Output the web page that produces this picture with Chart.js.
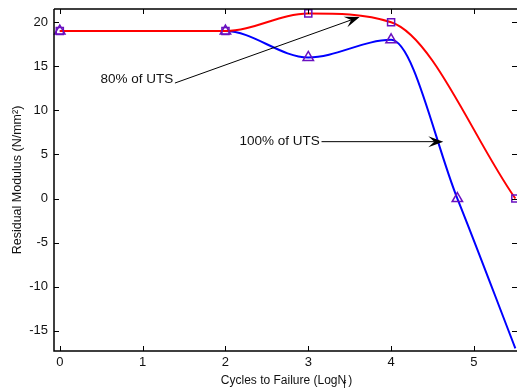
<!DOCTYPE html>
<html>
<head>
<meta charset="utf-8">
<script src="https://cdn.jsdelivr.net/npm/chart.js@4"></script>
<style>
  html, body { margin: 0; padding: 0; background: #fff; }
  #wrap { width: 517px; height: 388px; position: relative; }
</style>
</head>
<body>
<div id="wrap"><canvas id="chart"></canvas></div>
<script>
// data
const redX = [0, 2, 3, 4, 5.5];
const redY = [19, 19, 21, 20, 0];
const blueX = [0, 2, 3, 4, 4.8, 5.5];
const blueY = [19, 19, 16, 18, 0, -17];
const blueMarker = [true, true, true, true, true, false];
const xTicks = [0, 1, 2, 3, 4, 5];
const yTicks = [-15, -10, -5, 0, 5, 10, 15, 20];

// annotations in data units
const notes = [
  { text: '80% of UTS', tx: 1.37, ty: 13.5, x1: 1.39, y1: 13.1, x2: 3.62, y2: 20.6 },
  { text: '100% of UTS', tx: 3.14, ty: 6.45, x1: 3.16, y1: 6.45, x2: 4.63, y2: 6.45 }
];

const markerColor = '#6a10c0';
const font = 'Liberation Sans, Arial, sans-serif';

function pts(xs, ys) {
  return xs.map((x, i) => ({ x: x, y: ys[i] }));
}

const boxPlugin = {
  id: 'box',
  afterDatasetsDraw(chart) {
    const ctx = chart.ctx;
    const a = chart.chartArea;
    const xs = chart.scales.x, ys = chart.scales.y;
    ctx.save();
    ctx.strokeStyle = '#000';
    ctx.lineWidth = 1;
    // inward ticks
    ctx.beginPath();
    xTicks.forEach(v => {
      const p = Math.round(xs.getPixelForValue(v)) + 0.5;
      ctx.moveTo(p, a.bottom); ctx.lineTo(p, a.bottom - 5);
      ctx.moveTo(p, a.top); ctx.lineTo(p, a.top + 5);
    });
    yTicks.forEach(v => {
      const p = Math.round(ys.getPixelForValue(v)) + 0.5;
      ctx.moveTo(a.left, p); ctx.lineTo(a.left + 5, p);
      ctx.moveTo(a.right, p); ctx.lineTo(a.right - 5, p);
    });
    ctx.stroke();
    // box
    ctx.lineWidth = 1.5;
    ctx.beginPath();
    ctx.moveTo(a.left, a.top); ctx.lineTo(a.right, a.top);
    ctx.moveTo(a.left, a.top); ctx.lineTo(a.left, a.bottom);
    ctx.lineTo(a.right, a.bottom);
    ctx.stroke();

    // annotations
    ctx.font = '13.5px ' + font;
    ctx.textBaseline = 'middle';
    ctx.textAlign = 'right';
    notes.forEach(n => {
      const tx = xs.getPixelForValue(n.tx), ty = ys.getPixelForValue(n.ty);
      ctx.fillStyle = '#111';
      ctx.fillText(n.text, tx, ty);
      const x1 = xs.getPixelForValue(n.x1), y1 = ys.getPixelForValue(n.y1);
      const x2 = xs.getPixelForValue(n.x2), y2 = ys.getPixelForValue(n.y2);
      const ang = Math.atan2(y2 - y1, x2 - x1);
      const c = Math.cos(ang), s = Math.sin(ang);
      const L = 15, W = 5.5;
      const bx = x2 - L * c, by = y2 - L * s;
      const mx = x2 - L * 0.6 * c, my = y2 - L * 0.6 * s;
      ctx.strokeStyle = '#000';
      ctx.lineWidth = 1;
      ctx.beginPath();
      ctx.moveTo(x1, y1);
      ctx.lineTo(mx, my);
      ctx.stroke();
      // swept arrowhead
      ctx.fillStyle = '#000';
      ctx.beginPath();
      ctx.moveTo(x2, y2);
      ctx.lineTo(bx - W * s, by + W * c);
      ctx.lineTo(mx, my);
      ctx.lineTo(bx + W * s, by - W * c);
      ctx.closePath();
      ctx.fill();
    });

    // x axis title with subscript
    ctx.fillStyle = '#111';
    ctx.textAlign = 'left';
    ctx.textBaseline = 'alphabetic';
    ctx.font = '12px ' + font;
    const main = 'Cycles to Failure (LogN';
    const wMain = ctx.measureText(main).width;
    const wEnd = ctx.measureText(')').width;
    const total = wMain + wEnd + 2;
    const x0 = (a.left + a.right) / 2 - total / 2 + 1;
    const base = 384;
    ctx.fillText(main, x0, base);
    ctx.fillText(')', x0 + wMain + 2, base);
    ctx.font = '10px ' + font;
    ctx.fillText('f', x0 + wMain - 3, base + 4);
    ctx.restore();
  }
};

new Chart(document.getElementById('chart'), {
  type: 'line',
  data: {
    datasets: [
      {
        label: '80% of UTS',
        data: pts(redX, redY),
        borderColor: '#ff0000',
        borderWidth: 2,
        cubicInterpolationMode: 'monotone',
        pointStyle: 'rect',
        pointRadius: 5,
        pointBorderWidth: 1.5,
        pointBorderColor: markerColor,
        pointBackgroundColor: 'rgba(0,0,0,0)',
        fill: false
      },
      {
        label: '100% of UTS',
        data: pts(blueX, blueY),
        borderColor: '#0000ff',
        borderWidth: 2,
        cubicInterpolationMode: 'monotone',
        pointStyle: 'triangle',
        pointRadius: blueMarker.map(m => m ? 6 : 0),
        pointBorderWidth: 1.5,
        pointBorderColor: markerColor,
        pointBackgroundColor: 'rgba(0,0,0,0)',
        fill: false
      }
    ]
  },
  options: {
    responsive: true,
    maintainAspectRatio: false,
    animation: false,
    clip: false,
    layout: { autoPadding: false, padding: { top: 9, right: 0, left: 0, bottom: 0 } },
    plugins: {
      legend: { display: false },
      tooltip: { enabled: false }
    },
    scales: {
      x: {
        type: 'linear',
        min: -0.07,
        max: 5.52,
        afterBuildTicks: s => { s.ticks = xTicks.map(v => ({ value: v })); },
        afterFit: s => { s.height = 37; s.paddingLeft = 0; s.paddingRight = 0; },
        grid: { display: false, drawTicks: false },
        border: { display: false },
        ticks: { color: '#111', font: { family: font, size: 13 }, padding: 4, maxRotation: 0 }
      },
      y: {
        min: -17.3,
        max: 21.5,
        afterBuildTicks: s => { s.ticks = yTicks.map(v => ({ value: v })); },
        afterFit: s => { s.width = 54; s.paddingTop = 0; s.paddingBottom = 0; },
        grid: { display: false, drawTicks: false },
        border: { display: false },
        ticks: { color: '#111', font: { family: font, size: 13 }, padding: 6 },
        title: {
          display: true,
          text: 'Residual Modulus (N/mm\u00b2)',
          color: '#111',
          font: { family: font, size: 12.5 },
          padding: { top: 10, bottom: 4 }
        }
      }
    }
  },
  plugins: [boxPlugin]
});
</script>
</body>
</html>
